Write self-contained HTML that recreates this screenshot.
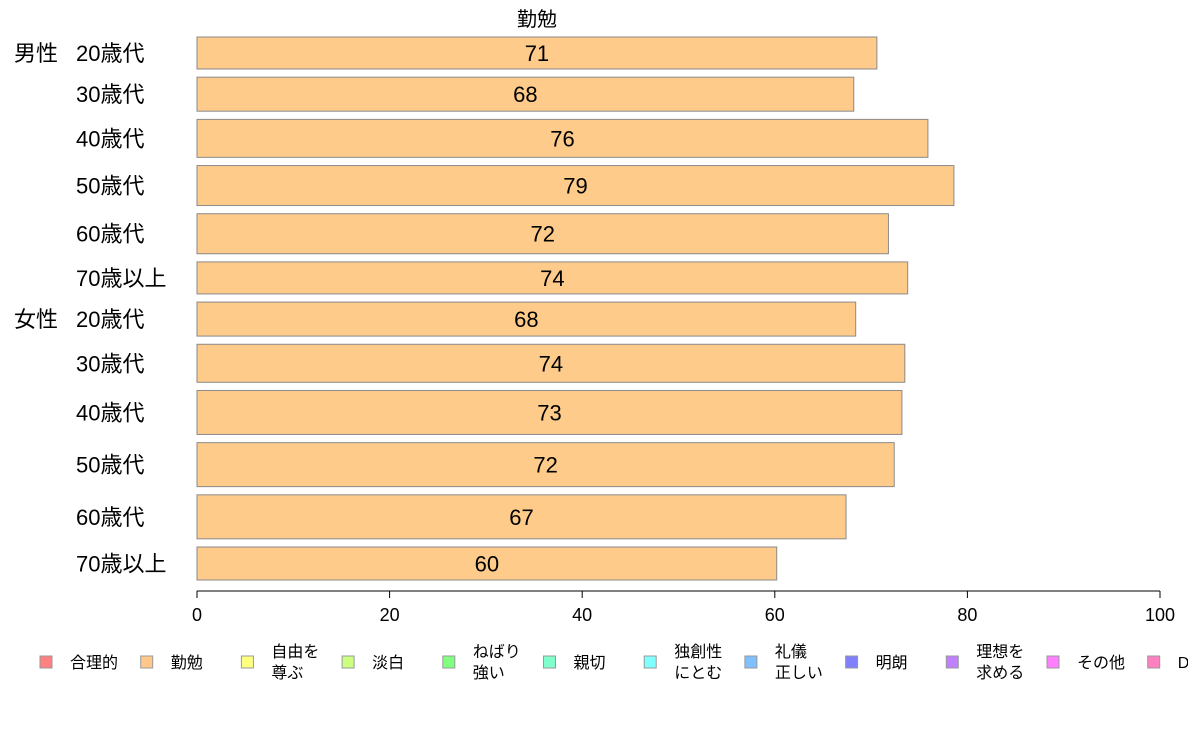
<!DOCTYPE html>
<html><head><meta charset="utf-8"><style>
body{margin:0;background:#fff;}
svg text{font-family:"Liberation Sans","Noto Sans CJK JP",sans-serif;fill:#000;}
</style></head><body>
<svg id="c" width="1188" height="736" xmlns="http://www.w3.org/2000/svg">
<text x="537" y="26" font-size="20" text-anchor="middle">勤勉</text>
<g id="bars"></g>
<g id="axis"></g>
<g id="legend"></g>
</svg>
<script>
const groups = ["男性","","","","","","女性","","","","",""];
const categories = ["20歳代","30歳代","40歳代","50歳代","60歳代","70歳以上","20歳代","30歳代","40歳代","50歳代","60歳代","70歳以上"];
const values = [70.6,68.2,75.9,78.6,71.8,73.8,68.4,73.5,73.2,72.4,67.4,60.2];
const weights = [32,34,38,40,40,32,34,38,44,44,44,33];
const ticks = [0,20,40,60,80,100];
const legendLabels = [["合理的"],["勤勉"],["自由を","尊ぶ"],["淡白"],["ねばり","強い"],["親切"],["独創性","にとむ"],["礼儀","正しい"],["明朗"],["理想を","求める"],["その他"],["D"]];
const legendColors = ["#FF8080","#FFC88A","#FFFF80","#CCFF80","#80FF80","#80FFCC","#80FFFF","#80C0FF","#8080FF","#C080FF","#FF80FF","#FF80C0"];

const NS="http://www.w3.org/2000/svg";
const x0=197,x1=1160;
const xs=v=>x0+(x1-x0)*v/100;
function mk(t,a,p){const e=document.createElementNS(NS,t);for(const k in a)e.setAttribute(k,a[k]);p.appendChild(e);return e;}
const barsG=document.getElementById('bars');
const totalW=weights.reduce((a,b)=>a+b,0);
const barTop=37,barBottom=580,gap=(barBottom-barTop-totalW)/(weights.length-1);
let yy0=barTop;
values.forEach((v,i)=>{
  const h=weights[i];
  const r=mk('rect',{x:x0,y:yy0,width:xs(v)-x0,height:h,fill:"#FECB8A",stroke:"#8a8a8a","stroke-width":1},barsG);
  
  
  const t=mk('text',{x:(x0+xs(v))/2,y:yy0+h/2+8,"font-size":22,"text-anchor":"middle"},barsG);
  t.textContent=Math.round(v);
  
  
  const c=mk('text',{x:76,y:yy0+h/2+8,"font-size":22},barsG);
  c.textContent=categories[i];
  
  
  if(groups[i]){
    const g=mk('text',{x:14,y:yy0+h/2+8,"font-size":22},barsG);
    g.textContent=groups[i];
    
    
  }
  yy0+=h+gap;
});
const ax=document.getElementById('axis');
const l=mk('line',{x1:x0,x2:x1,y1:591,y2:591,stroke:"#000","stroke-width":1},ax);


ticks.forEach(t=>{
  const tk=mk('line',{x1:xs(t),x2:xs(t),y1:591,y2:598,stroke:"#000"},ax);
  
  
  const tx=mk('text',{x:xs(t),y:621,"font-size":18,"text-anchor":"middle"},ax);
  tx.textContent=t;
  
  
});
const lg=document.getElementById('legend');
legendLabels.forEach((lab,i)=>{
  const bx=40+i*100.7;
  const r=mk('rect',{x:bx,y:656,width:12,height:12,fill:legendColors[i],stroke:"#999"},lg);
  
  
  lab.forEach((s,j)=>{
    const ly=lab.length===1?668:657+j*21;
    const t=mk('text',{x:bx+30,y:ly,"font-size":16},lg);
    t.textContent=s;
    
    
  });
});
</script>
</body></html>
